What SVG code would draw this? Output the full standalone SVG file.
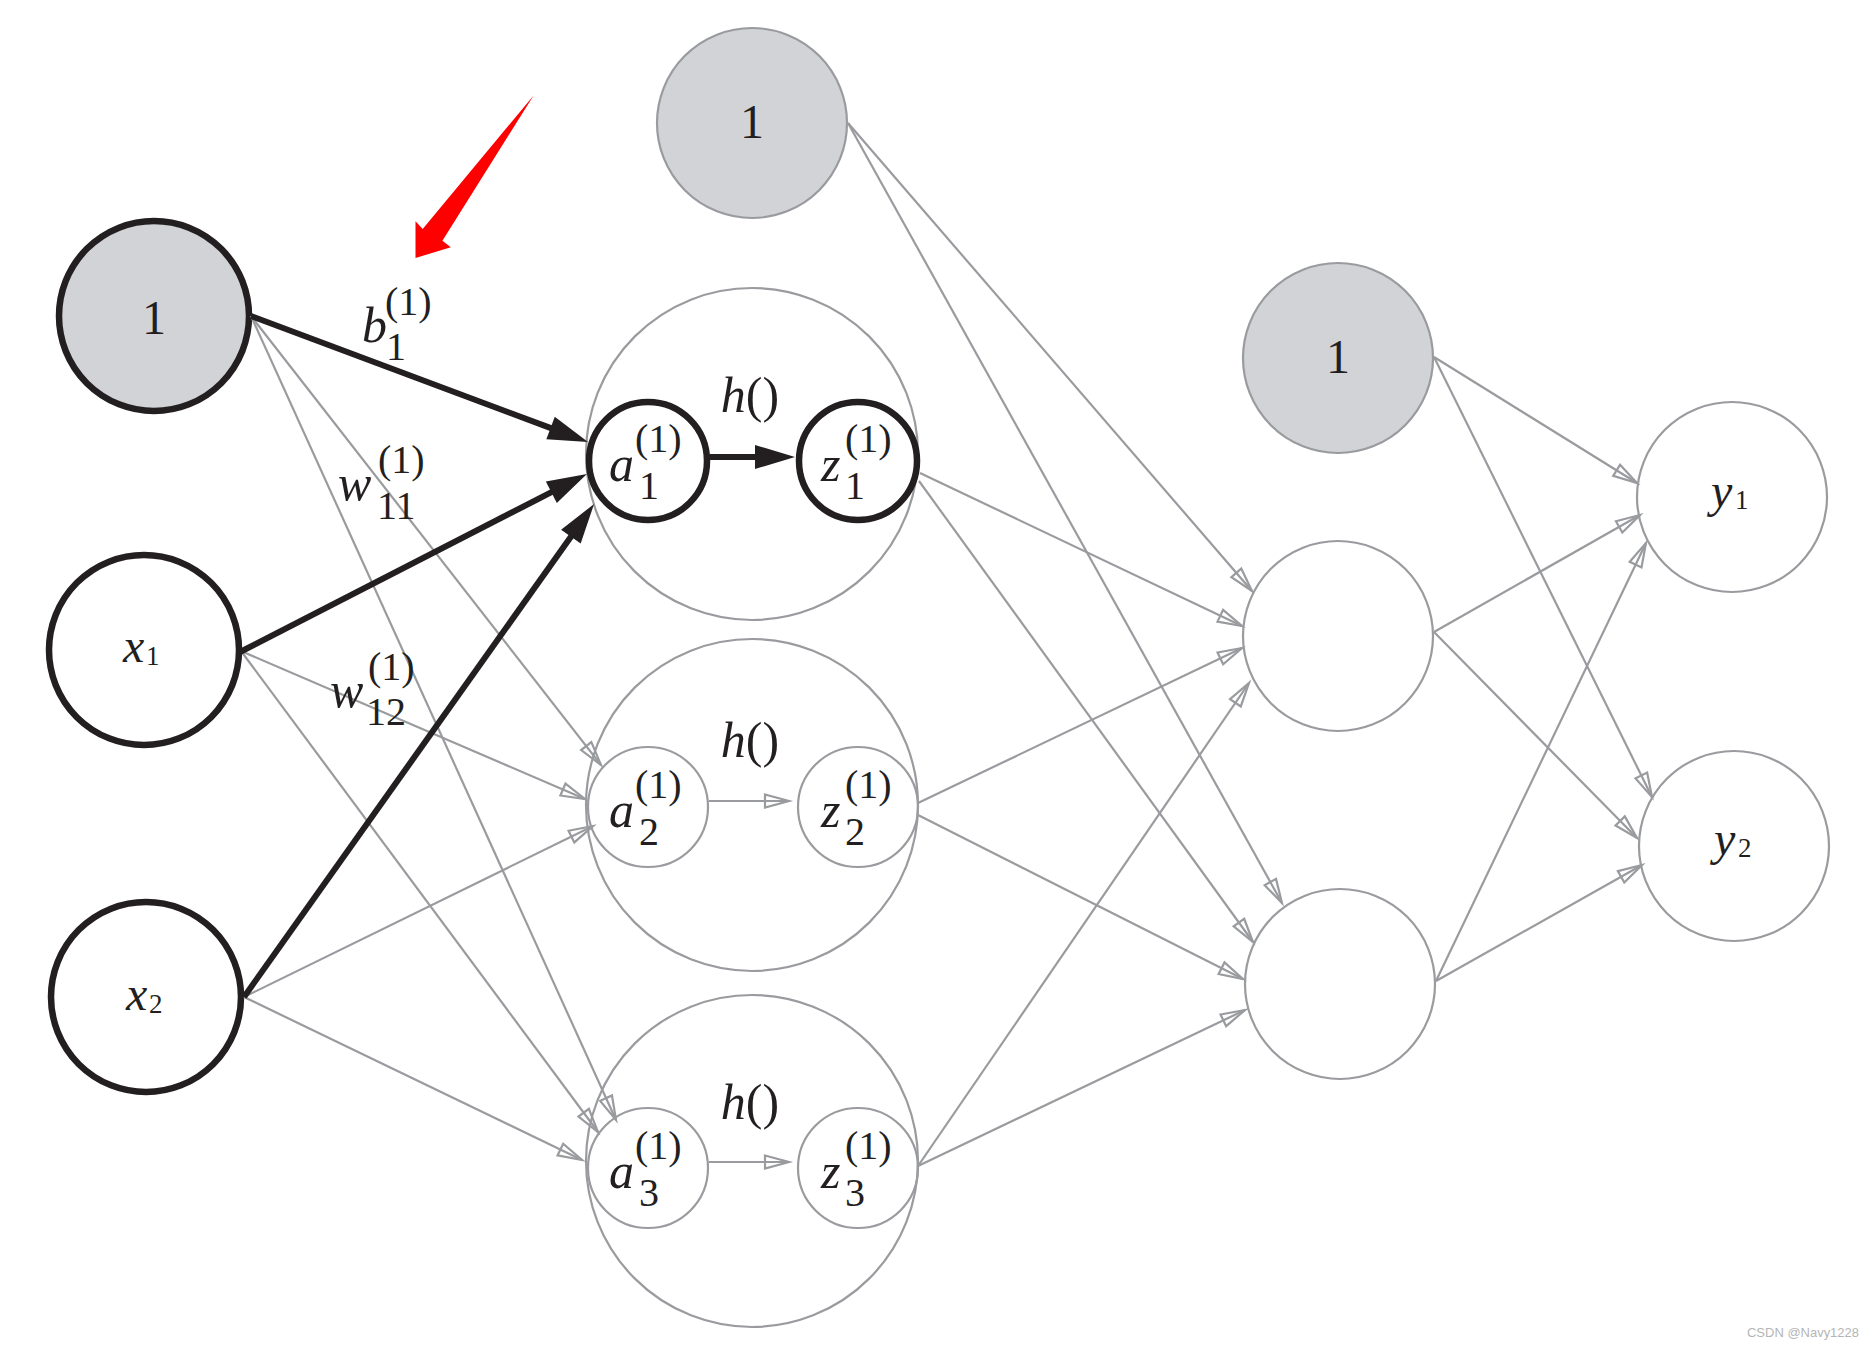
<svg xmlns="http://www.w3.org/2000/svg" width="1874" height="1348" viewBox="0 0 1874 1348">
<style>
.thick{fill:none;stroke:#231f20;stroke-width:6.5}
.thickb{fill:#d1d3d6;stroke:#231f20;stroke-width:6.5}
.grey{fill:none;stroke:#9a9b9f;stroke-width:2.2}
.greyb{fill:#d1d3d6;stroke:#9a9b9f;stroke-width:2.2}
.gl{stroke:#9a9b9f;stroke-width:2.2;fill:none;marker-end:url(#open)}
.bl{stroke:#231f20;stroke-width:6;fill:none;marker-end:url(#solid)}
text{font-family:"Liberation Serif","Times New Roman",serif;fill:#231f20}
.it{font-style:italic;font-size:50px}
.num{font-size:48px}
.sc{font-size:40px}
.xi{font-style:italic;font-size:48px}
.xs{font-size:27px}
</style>
<defs>
<marker id="open" markerUnits="userSpaceOnUse" markerWidth="30" markerHeight="20" refX="0" refY="0" orient="auto" overflow="visible">
<path d="M-24,-6.5 L0,0 L-24,6.5 Z" fill="none" stroke="#9a9b9f" stroke-width="2.2"/>
</marker>
<marker id="solid" markerUnits="userSpaceOnUse" markerWidth="44" markerHeight="26" refX="-36" refY="0" orient="auto" overflow="visible">
<path d="M-40,-12 L0,0 L-40,12 Z" fill="#231f20"/>
</marker>
</defs>
<rect width="1874" height="1348" fill="#ffffff"/>

<g id="nodes">
<g id="bias0"><circle cx="154" cy="316" r="95" class="thickb"/><text x="154" y="334" class="num" text-anchor="middle">1</text></g>
<g id="x1"><circle cx="144" cy="650" r="95" class="thick"/><text x="123" y="662" class="xi">x</text><text x="146" y="665" class="xs">1</text></g>
<g id="x2"><circle cx="146" cy="997" r="95" class="thick"/><text x="126" y="1010" class="xi">x</text><text x="149" y="1013" class="xs">2</text></g>
<g id="bias1"><circle cx="752" cy="123" r="95" class="greyb"/><text x="752" y="138" class="num" text-anchor="middle">1</text></g>

<g id="h1">
<circle cx="752" cy="454" r="166" class="grey"/>
<circle cx="648" cy="461" r="59" fill="#fff" class="thick"/>
<circle cx="858" cy="461" r="59" fill="#fff" class="thick"/>
<text x="750" y="412" text-anchor="middle" font-size="50"><tspan font-style="italic">h</tspan>()</text>
<text x="609" y="481" class="it">a</text><text x="635" y="452" class="sc">(1)</text><text x="639" y="499" class="sc">1</text>
<text x="821" y="481" class="it">z</text><text x="845" y="452" class="sc">(1)</text><text x="845" y="499" class="sc">1</text>
</g>
<g id="h2">
<circle cx="752" cy="805" r="166" class="grey"/>
<circle cx="648" cy="807" r="60" fill="#fff" class="grey"/>
<circle cx="858" cy="807" r="60" fill="#fff" class="grey"/>
<text x="750" y="757" text-anchor="middle" font-size="50"><tspan font-style="italic">h</tspan>()</text>
<text x="609" y="827" class="it">a</text><text x="635" y="798" class="sc">(1)</text><text x="639" y="845" class="sc">2</text>
<text x="821" y="827" class="it">z</text><text x="845" y="798" class="sc">(1)</text><text x="845" y="845" class="sc">2</text>
</g>
<g id="h3">
<circle cx="752" cy="1161" r="166" class="grey"/>
<circle cx="648" cy="1168" r="60" fill="#fff" class="grey"/>
<circle cx="858" cy="1168" r="60" fill="#fff" class="grey"/>
<text x="750" y="1119" text-anchor="middle" font-size="50"><tspan font-style="italic">h</tspan>()</text>
<text x="609" y="1188" class="it">a</text><text x="635" y="1159" class="sc">(1)</text><text x="639" y="1206" class="sc">3</text>
<text x="821" y="1188" class="it">z</text><text x="845" y="1159" class="sc">(1)</text><text x="845" y="1206" class="sc">3</text>
</g>

<g id="bias2"><circle cx="1338" cy="358" r="95" class="greyb"/><text x="1338" y="373" class="num" text-anchor="middle">1</text></g>
<g id="n1"><circle cx="1338" cy="636" r="95" class="grey"/></g>
<g id="n2"><circle cx="1340" cy="984" r="95" class="grey"/></g>
<g id="y1"><circle cx="1732" cy="497" r="95" class="grey"/><text x="1711" y="507" class="xi">y</text><text x="1735" y="509" class="xs">1</text></g>
<g id="y2"><circle cx="1734" cy="846" r="95" class="grey"/><text x="1714" y="855" class="xi">y</text><text x="1738" y="857" class="xs">2</text></g>
</g>

<g id="connectors">
<line x1="251" y1="316" x2="601" y2="765" class="gl"/>
<line x1="251" y1="316" x2="616" y2="1120" class="gl"/>
<line x1="241" y1="651" x2="585" y2="799" class="gl"/>
<line x1="241" y1="651" x2="598" y2="1132" class="gl"/>
<line x1="244" y1="997" x2="593" y2="826" class="gl"/>
<line x1="244" y1="997" x2="582" y2="1160" class="gl"/>
<line x1="709" y1="801" x2="789" y2="801" class="gl"/>
<line x1="709" y1="1162" x2="789" y2="1162" class="gl"/>
<line x1="848" y1="123" x2="1252" y2="591" class="gl"/>
<line x1="848" y1="123" x2="1282" y2="903" class="gl"/>
<line x1="920" y1="473" x2="1242" y2="626" class="gl"/>
<line x1="919" y1="481" x2="1253" y2="942" class="gl"/>
<line x1="918" y1="803" x2="1242" y2="648" class="gl"/>
<line x1="918" y1="815" x2="1243" y2="979" class="gl"/>
<line x1="918" y1="1166" x2="1249" y2="683" class="gl"/>
<line x1="918" y1="1166" x2="1245" y2="1010" class="gl"/>
<line x1="1434" y1="357" x2="1637" y2="483" class="gl"/>
<line x1="1434" y1="357" x2="1652" y2="797" class="gl"/>
<line x1="1434" y1="632" x2="1640" y2="515" class="gl"/>
<line x1="1434" y1="632" x2="1637" y2="838" class="gl"/>
<line x1="1436" y1="981" x2="1646" y2="543" class="gl"/>
<line x1="1436" y1="981" x2="1642" y2="865" class="gl"/>
<line x1="251" y1="316" x2="554.3" y2="429.4" class="bl"/>
<line x1="240" y1="652" x2="554.9" y2="490.4" class="bl"/>
<line x1="244" y1="997" x2="573.2" y2="533.4" class="bl"/>
<line x1="710" y1="457" x2="759" y2="457" class="bl"/>
</g>

<g id="edge-labels">
<text x="362" y="342" class="it">b</text><text x="385" y="315" class="sc">(1)</text><text x="386" y="360" class="sc">1</text>
<text x="338" y="500" class="it">w</text><text x="378" y="473" class="sc">(1)</text><text x="377" y="519" class="sc">11</text>
<text x="330" y="707" class="it">w</text><text x="368" y="680" class="sc">(1)</text><text x="366" y="725" class="sc">12</text>
</g>

<polygon id="red-arrow" points="533.6,95.4 442.4,240.7 450.8,247.2 415.5,258 415.5,221.2 422.7,229" fill="#ff0000"/>

<text x="1747" y="1337" font-size="13" textLength="112" lengthAdjust="spacingAndGlyphs" style="font-family:'Liberation Sans',Arial,sans-serif;fill:#b5b5b5">CSDN @Navy1228</text>
</svg>
